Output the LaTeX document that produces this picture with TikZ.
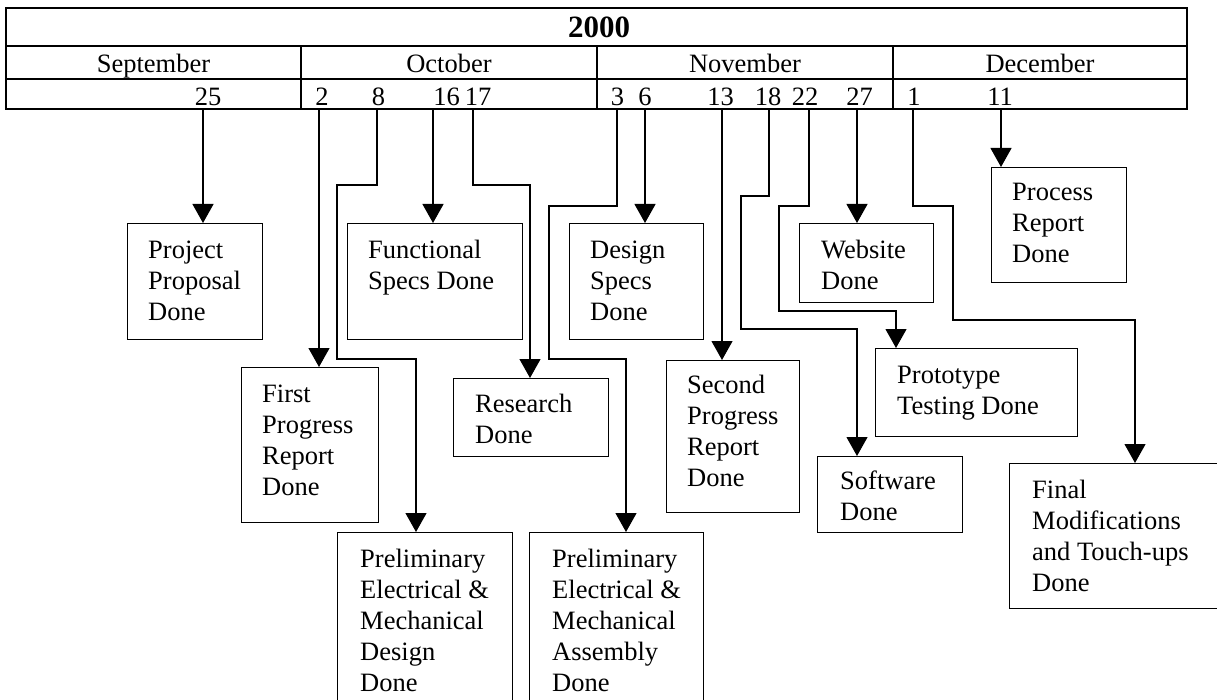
\documentclass[tikz,border=0pt]{standalone}
\usepackage{fontspec}
\setmainfont{Liberation Serif}
\usetikzlibrary{arrows.meta}
\begin{document}
\begin{tikzpicture}[x=1pt,y=-1pt,
  tbl/.style={line width=1.6pt},
  box/.style={draw,line width=1.3pt,inner sep=0pt,minimum width=#1},
  arr/.style={line width=1.2pt,-{Triangle[length=19pt,width=21pt]}},
  hdr/.style={font=\fontsize{26.5}{31}\selectfont,anchor=base,inner sep=0pt},
  yr/.style={font=\fontsize{31}{36}\selectfont\bfseries,anchor=base,inner sep=0pt},
  txt/.style={font=\fontsize{26.5}{31}\selectfont,anchor=north west,align=left,inner sep=0pt}]
\useasboundingbox (0,0) rectangle (1217,700);
\clip (0,0) rectangle (1217,700);
% header table
\draw[tbl] (6,8) rectangle (1187,109);
\draw[tbl] (6,46) -- (1187,46);
\draw[tbl] (6,79) -- (1187,79);
\foreach \x in {301,597,893} \draw[tbl] (\x,46) -- (\x,109);
\node[yr] (year) at (599,38) {2000};
\node[hdr] (sep) at (153.5,73) {September};
\node[hdr] (oct) at (449,73) {October};
\node[hdr] (nov) at (745,73) {November};
\node[hdr] (dec) at (1040,73) {December};
\node[hdr] (d25) at (208,106) {25};
\node[hdr] (d2) at (322,106) {2};
\node[hdr] (d8) at (378.5,106) {8};
\node[hdr] (d16) at (446.5,106) {16};
\node[hdr] (d17) at (478,106) {17};
\node[hdr] (d3) at (617.5,106) {3};
\node[hdr] (d6) at (645,106) {6};
\node[hdr] (d13) at (720.5,106) {13};
\node[hdr] (d18) at (768,106) {18};
\node[hdr] (d22) at (805,106) {22};
\node[hdr] (d27) at (859.5,106) {27};
\node[hdr] (d1) at (914,106) {1};
\node[hdr] (d11) at (1000,106) {11};
% connector start points on the table's bottom line
\coordinate (t25) at (203,109);
\coordinate (t2) at (319,109);
\coordinate (t8) at (377,109);
\coordinate (t16) at (433,109);
\coordinate (t17) at (473,109);
\coordinate (t3) at (617,109);
\coordinate (t6) at (645,109);
\coordinate (t13) at (722,109);
\coordinate (t18) at (769,109);
\coordinate (t22) at (809,109);
\coordinate (t27) at (857,109);
\coordinate (t1) at (913,109);
\coordinate (t11) at (1001,109);
% boxes
\node[box=135pt,minimum height=116pt,anchor=north west] (pp) at (127,223) {};
\node[txt] (ppt) at (148,236.3) {\strut Project\\Proposal\\Done};
\node[box=137pt,minimum height=155pt,anchor=north west] (fp) at (241,367) {};
\node[txt] (fpt) at (262,380.3) {\strut First\\Progress\\Report\\Done};
\node[box=175pt,minimum height=190pt,anchor=north west] (ped) at (337,532) {};
\node[txt] (pedt) at (360,545.3) {\strut Preliminary\\Electrical \&\\Mechanical\\Design\\Done};
\node[box=175pt,minimum height=116pt,anchor=north west] (fs) at (347,223) {};
\node[txt] (fst) at (368,236.3) {\strut Functional\\Specs Done};
\node[box=155pt,minimum height=78pt,anchor=north west] (rd) at (453,378) {};
\node[txt] (rdt) at (475,390.3) {\strut Research\\Done};
\node[box=174pt,minimum height=190pt,anchor=north west] (pea) at (529,532) {};
\node[txt] (peat) at (552,545.3) {\strut Preliminary\\Electrical \&\\Mechanical\\Assembly\\Done};
\node[box=134pt,minimum height=116pt,anchor=north west] (ds) at (569,223) {};
\node[txt] (dst) at (590,236.3) {\strut Design\\Specs\\Done};
\node[box=133pt,minimum height=152pt,anchor=north west] (sp) at (666,360) {};
\node[txt] (spt) at (687,371.3) {\strut Second\\Progress\\Report\\Done};
\node[box=145pt,minimum height=76pt,anchor=north west] (sw) at (817,456) {};
\node[txt] (swt) at (840,467.3) {\strut Software\\Done};
\node[box=202pt,minimum height=88pt,anchor=north west] (pt) at (875,348) {};
\node[txt] (ptt) at (897,361.3) {\strut Prototype\\Testing Done};
\node[box=134pt,minimum height=79pt,anchor=north west] (wd) at (799,223) {};
\node[txt] (wdt) at (821,236.3) {\strut Website\\Done};
\node[box=216pt,minimum height=145pt,anchor=north west] (fm) at (1009,463) {};
\node[txt] (fmt) at (1032,476.3) {\strut Final\\Modifications\\and Touch-ups\\Done};
\node[box=135pt,minimum height=115pt,anchor=north west] (pr) at (991,167) {};
\node[txt] (prt) at (1012,178.3) {\strut Process\\Report\\Done};
% bend points of the routed connectors
\coordinate (b8) at (416,359);
\coordinate (b17) at (530,185);
\coordinate (b3) at (626,359);
\coordinate (b18) at (857,329);
\coordinate (b22) at (896,311);
\coordinate (b1) at (1135,320);
% connectors
\draw[arr] (t25) -- (t25 |- pp.north);
\draw[arr] (t2) -- (t2 |- fp.north);
\draw[arr] (t8) -- (377,185) -- (337,185) -- (337,359) -- (b8) -- (b8 |- ped.north);
\draw[arr] (t16) -- (t16 |- fs.north);
\draw[arr] (t17) -- (473,185) -- (b17) -- (b17 |- rd.north);
\draw[arr] (t3) -- (617,206) -- (549,206) -- (549,359) -- (b3) -- (b3 |- pea.north);
\draw[arr] (t6) -- (t6 |- ds.north);
\draw[arr] (t13) -- (t13 |- sp.north);
\draw[arr] (t18) -- (769,196) -- (741,196) -- (741,329) -- (b18) -- (b18 |- sw.north);
\draw[arr] (t22) -- (809,206) -- (779,206) -- (779,311) -- (b22) -- (b22 |- pt.north);
\draw[arr] (t27) -- (t27 |- wd.north);
\draw[arr] (t1) -- (913,206) -- (953,206) -- (953,320) -- (b1) -- (b1 |- fm.north);
\draw[arr] (t11) -- (t11 |- pr.north);
\end{tikzpicture}
\end{document}
